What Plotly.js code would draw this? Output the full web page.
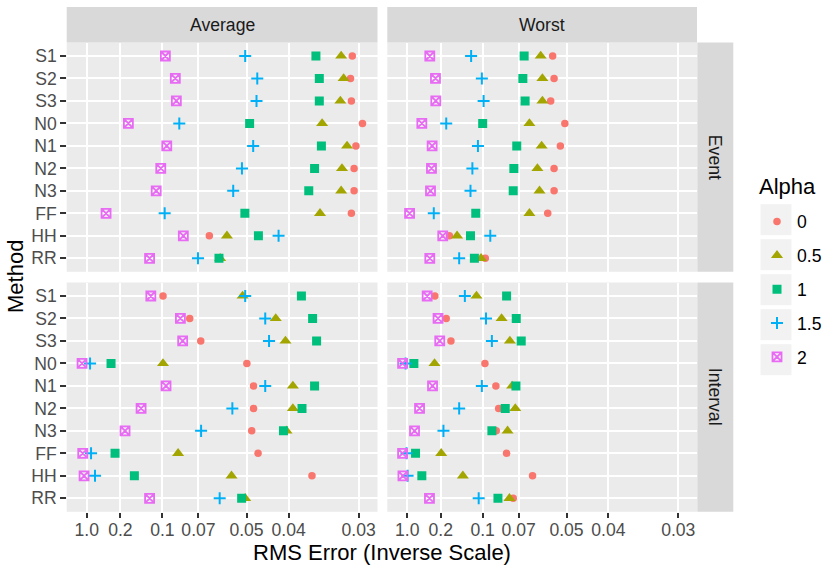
<!DOCTYPE html>
<html><head><meta charset="utf-8">
<script src="https://cdn.plot.ly/plotly-3.0.1.min.js"></script>
<style>html,body{margin:0;padding:0;background:#fff}#chart{width:827px;height:572px}</style>
</head><body><div id="chart"></div>
<script>
// Categories
const methods = ['S1','S2','S3','N0','N1','N2','N3','FF','HH','RR'];
const alphaLabels = ['0','0.5','1','1.5','2'];
const tickValues = [1.0, 0.2, 0.1, 0.07, 0.05, 0.04, 0.03];
const tickLabels = ['1.0','0.2','0.1','0.07','0.05','0.04','0.03'];

// RMS error values (order follows methods)
// Average / Event
const avgEvent0  = [0.0307,0.0309,0.0308,0.0296,0.0303,0.0305,0.0305,0.0308,0.0642,0.0596];
const avgEvent05 = [0.0320,0.0317,0.0321,0.0345,0.0313,0.0319,0.0320,0.0348,0.0566,0.0593];
const avgEvent1  = [0.0354,0.0349,0.0349,0.0491,0.0346,0.0356,0.0365,0.0505,0.0467,0.0598];
const avgEvent15 = [0.0504,0.0470,0.0472,0.0833,0.0481,0.0514,0.0543,0.0974,0.0420,0.0703];
const avgEvent2  = [0.0966,0.0867,0.0858,0.168,0.0951,0.102,0.108,0.303,0.0801,0.118];
// Worst / Event
const worstEvent0  = [0.0545,0.0540,0.0552,0.0505,0.0519,0.0540,0.0540,0.0563,0.166,0.0970];
const worstEvent05 = [0.0591,0.0584,0.0584,0.0642,0.0587,0.0605,0.0596,0.0642,0.144,0.102];
const worstEvent1  = [0.0669,0.0676,0.0664,0.100,0.0711,0.0729,0.0733,0.109,0.117,0.111];
const worstEvent15 = [0.116,0.101,0.0989,0.177,0.106,0.114,0.117,0.240,0.0917,0.139];
const worstEvent2  = [0.271,0.229,0.227,0.365,0.252,0.257,0.265,0.783,0.191,0.271];
// Average / Interval
const avgInterval0  = [0.0993,0.0755,0.0687,0.0499,0.0480,0.0480,0.0485,0.0468,0.0360,0.0510];
const avgInterval05 = [0.0512,0.0426,0.0406,0.0993,0.0392,0.0392,0.0404,0.0843,0.0549,0.0504];
const avgInterval1  = [0.0377,0.0359,0.0353,0.257,0.0356,0.0376,0.0410,0.229,0.150,0.0515];
const avgInterval15 = [0.0504,0.0450,0.0441,0.716,0.0450,0.0546,0.0685,0.660,0.503,0.0595];
const avgInterval2  = [0.116,0.0824,0.0806,2.25,0.0959,0.134,0.180,1.90,1.46,0.118];
// Worst / Interval
const worstInterval0  = [0.233,0.177,0.161,0.0974,0.0864,0.0840,0.0861,0.0778,0.0627,0.0733];
const worstInterval05 = [0.108,0.0816,0.0755,0.235,0.0740,0.0720,0.0771,0.198,0.131,0.0758];
const worstInterval1  = [0.0778,0.0714,0.0685,0.558,0.0716,0.0788,0.0901,0.503,0.365,0.0846];
const worstInterval15 = [0.127,0.0962,0.0901,1.25,0.101,0.139,0.188,1.09,0.962,0.105];
const worstInterval2  = [0.296,0.214,0.205,2.25,0.249,0.405,0.535,2.25,2.06,0.274];

const colors  = ['#F8766D','#A3A500','#00BF7D','#00B0F6','#E76BF3'];
const symbols = ['circle','triangle-up','square','cross-thin-open','square-x-open'];
const sizes   = [7.5, 10.5, 9, 8.6, 9];
const lineW   = [0, 0, 0, 2, 1.8];

const inv = v => 1 / v;   // inverse scale transform
const FONT = 'Liberation Sans, Arial, sans-serif';

const panels = [
  {sets:[avgEvent0,avgEvent05,avgEvent1,avgEvent15,avgEvent2], xa:'x', ya:'y'},
  {sets:[worstEvent0,worstEvent05,worstEvent1,worstEvent15,worstEvent2], xa:'x2', ya:'y2'},
  {sets:[avgInterval0,avgInterval05,avgInterval1,avgInterval15,avgInterval2], xa:'x3', ya:'y3'},
  {sets:[worstInterval0,worstInterval05,worstInterval1,worstInterval15,worstInterval2], xa:'x4', ya:'y4'}
];

const traces = [];
panels.forEach((p, pi) => {
  p.sets.forEach((vals, ai) => {
    traces.push({
      type:'scatter', mode:'markers',
      x: vals.map(inv), y: methods,
      xaxis: p.xa, yaxis: p.ya,
      name: alphaLabels[ai], legendgroup: alphaLabels[ai],
      showlegend: pi === 0,
      marker: {color: colors[ai], symbol: symbols[ai], size: sizes[ai],
               line: {width: lineW[ai], color: colors[ai]}},
      hoverinfo:'x+y'
    });
  });
});

const W = 827, H = 572;
const px = v => v / W;
const py = v => (H - v) / H;
const colL = [px(66.7), px(377.5)];
const colR = [px(387.3), px(697)];
const rowT = [py(271.8), py(42.5)];
const rowB = [py(511.8), py(282.5)];
const xRange = [-1.38, 35.57];

function xax(domain, anchor, showLabels) {
  return {
    domain: domain, anchor: anchor, range: xRange, type:'linear',
    tickmode:'array', tickvals: tickValues.map(inv), ticktext: tickLabels,
    showticklabels: showLabels, ticks: showLabels ? 'outside' : '',
    ticklen: 5.5, tickwidth: 2, tickcolor:'#333333', ticklabelstandoff: -3,
    tickfont: {family: FONT, size: 17.6, color:'#4D4D4D'},
    showgrid: true, gridcolor:'#FFFFFF', gridwidth: 2,
    zeroline: false, showline: false, fixedrange: true
  };
}
function yax(domain, anchor, showLabels) {
  return {
    domain: domain, anchor: anchor, type:'category',
    categoryorder:'array', categoryarray: methods.slice().reverse(),
    range: [-0.6, 9.6],
    showticklabels: showLabels, ticks: showLabels ? 'outside' : '',
    ticklen: 5.5, tickwidth: 2, tickcolor:'#333333',
    tickfont: {family: FONT, size: 17.6, color:'#4D4D4D'},
    showgrid: true, gridcolor:'#FFFFFF', gridwidth: 2,
    zeroline: false, showline: false, fixedrange: true
  };
}

const stripFill = '#D9D9D9';
const shapes = [
  {type:'rect', xref:'paper', yref:'paper', x0: colL[0], x1: colL[1], y0: py(42.5), y1: py(7), fillcolor: stripFill, line:{width:0}, layer:'below'},
  {type:'rect', xref:'paper', yref:'paper', x0: colR[0], x1: colR[1], y0: py(42.5), y1: py(7), fillcolor: stripFill, line:{width:0}, layer:'below'},
  {type:'rect', xref:'paper', yref:'paper', x0: px(697.3), x1: px(733.3), y0: rowT[0], y1: rowT[1], fillcolor: stripFill, line:{width:0}, layer:'below'},
  {type:'rect', xref:'paper', yref:'paper', x0: px(697.3), x1: px(733.3), y0: rowB[0], y1: rowB[1], fillcolor: stripFill, line:{width:0}, layer:'below'}
];
// legend key backgrounds
for (let i = 0; i < 5; i++) {
  const c = 219.7 + 35 * i;
  shapes.push({type:'rect', xref:'paper', yref:'paper', x0: px(760.5), x1: px(791.5),
    y0: py(c + 15.5), y1: py(c - 15.5), fillcolor:'#F2F2F2', line:{width:0}, layer:'below'});
}

const ann = (text, x, y, size, color, angle, xanchor) => ({
  text: text, x: x, y: y, xref:'paper', yref:'paper', showarrow:false,
  xanchor: xanchor || 'center', yanchor:'middle', textangle: angle || 0,
  font:{family:FONT, size:size, color:color}
});
const annotations = [
  ann('Average', (colL[0]+colL[1])/2, py(24.7), 17.6, '#1A1A1A'),
  ann('Worst', (colR[0]+colR[1])/2, py(24.7), 17.6, '#1A1A1A'),
  ann('Event', px(715.3), (rowT[0]+rowT[1])/2, 17.6, '#1A1A1A', 90),
  ann('Interval', px(715.3), (rowB[0]+rowB[1])/2, 17.6, '#1A1A1A', 90),
  ann('RMS Error (Inverse Scale)', (colL[0]+colR[1])/2, py(552), 22, '#000000'),
  ann('Method', px(15), py(277), 22, '#000000', -90),
  ann('Alpha', px(757), py(187), 22, '#000000', 0, 'left')
];

const layout = {
  width: W, height: H, autosize: false,
  margin: {l:0, r:0, t:0, b:0, pad:0},
  paper_bgcolor:'#FFFFFF', plot_bgcolor:'#EBEBEB',
  font: {family: FONT},
  xaxis: xax(colL, 'y', false),
  xaxis2: xax(colR, 'y2', false),
  xaxis3: xax(colL, 'y3', true),
  xaxis4: xax(colR, 'y4', true),
  yaxis: yax(rowT, 'x', true),
  yaxis2: yax(rowT, 'x2', false),
  yaxis3: yax(rowB, 'x3', true),
  yaxis4: yax(rowB, 'x4', false),
  showlegend: true,
  legend: {
    x: px(757), y: py(203.5), xanchor:'left', yanchor:'top',
    bgcolor:'rgba(0,0,0,0)', borderwidth:0,
    font: {family:FONT, size:17.6, color:'#000000'},
    traceorder:'grouped', tracegroupgap: 8, itemclick:false, itemdoubleclick:false
  },
  shapes: shapes,
  annotations: annotations,
  hovermode: 'closest'
};

Plotly.newPlot('chart', traces, layout, {displayModeBar:false, staticPlot:true});
</script>
</body></html>
